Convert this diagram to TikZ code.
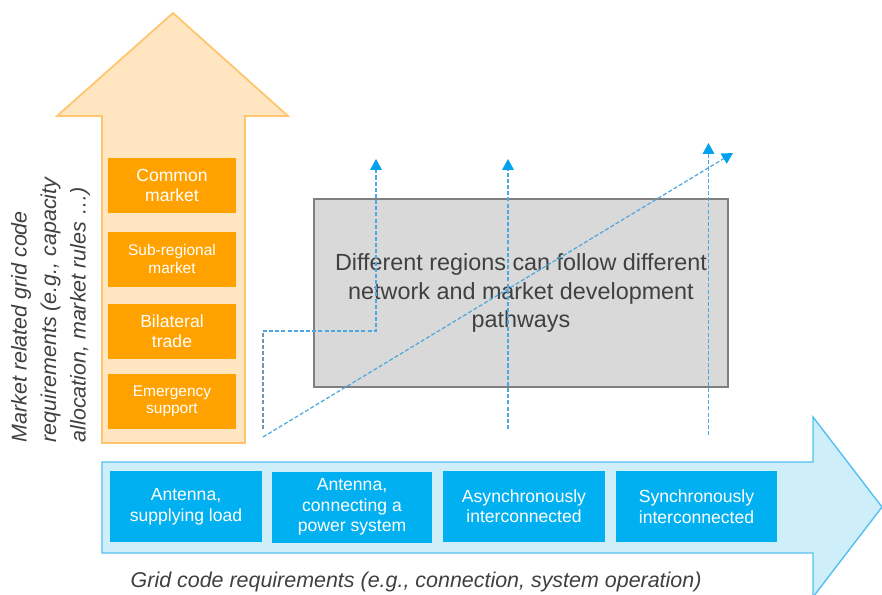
\documentclass[tikz,border=0pt]{standalone}
\usepackage{fontspec}
\setmainfont{Liberation Sans}
\usetikzlibrary{arrows.meta}
\definecolor{mktfill}{RGB}{255,230,192}
\definecolor{mktline}{RGB}{255,196,110}
\definecolor{mktbox}{RGB}{255,162,0}
\definecolor{gridfill}{RGB}{206,238,250}
\definecolor{gridline}{RGB}{85,192,240}
\definecolor{gridbox}{RGB}{0,176,240}
\definecolor{boxfill}{RGB}{217,217,217}
\definecolor{boxline}{RGB}{127,127,127}
\definecolor{labelgray}{RGB}{64,64,64}
\definecolor{dashblue}{RGB}{75,168,224}
\definecolor{dashgray}{RGB}{110,150,185}
\definecolor{tipblue}{RGB}{0,162,238}

\begin{document}
\begin{tikzpicture}[>={Triangle[length=6.2pt,width=6.6pt,color=tipblue]},thick]

      % picture size
      \useasboundingbox (0,0) rectangle (17.64,-11.88);

      % big arrows
      \draw [draw=gridline, fill=gridfill, line width=0.8pt] (2.04,-9.24) -- (16.26,-9.24) -- (16.26,-8.34) -- (17.64,-10.14) -- (16.26,-11.94) -- (16.26,-11.06) -- (2.04,-11.06) -- cycle;
      \draw [draw=mktline, fill=mktfill, line width=1pt] (2.04,-8.86) -- (2.04,-2.32) -- (1.14,-2.32) -- (3.46,-0.26) -- (5.76,-2.32) -- (4.90,-2.32) -- (4.90,-8.86) -- cycle;

      % market steps
      \node [fill=mktbox, text=white, minimum width=2.56cm, minimum height=1.1cm, align=center, font=\fontsize{10}{11.4}\selectfont, name=m4] at (3.44, -3.71) {Common\\market};
      \node [fill=mktbox, text=white, minimum width=2.56cm, minimum height=1.1cm, align=center, font=\fontsize{8.8}{9.9}\selectfont, name=m3] at (3.44, -5.18) {Sub-regional\\market};
      \node [fill=mktbox, text=white, minimum width=2.56cm, minimum height=1.1cm, align=center, font=\fontsize{10}{11.4}\selectfont, name=m2] at (3.44, -6.63) {Bilateral\\trade};
      \node [fill=mktbox, text=white, minimum width=2.56cm, minimum height=1.1cm, align=center, font=\fontsize{8.8}{9.9}\selectfont, name=m1] at (3.44, -8.03) {Emergency\\support};

      % grid steps
      \node [fill=gridbox, text=white, minimum width=3.04cm, minimum height=1.42cm, align=center, font=\fontsize{10}{11.7}\selectfont, name=g1] at (3.72, -10.13) {Antenna,\\supplying load};
      \node [fill=gridbox, text=white, minimum width=3.2cm, minimum height=1.42cm, align=center, font=\fontsize{10}{11.7}\selectfont, name=g2] at (7.04, -10.14) {Antenna,\\connecting a\\power system};
      \node [fill=gridbox, text=white, minimum width=3.24cm, minimum height=1.42cm, align=center, font=\fontsize{10}{11.7}\selectfont, name=g3] at (10.48, -10.12) {Asynchronously\\interconnected};
      \node [fill=gridbox, text=white, minimum width=3.22cm, minimum height=1.42cm, align=center, font=\fontsize{10}{11.7}\selectfont, name=g4] at (13.93, -10.13) {Synchronously\\interconnected};

      % axis labels
      \node [rotate=90, anchor=west, align=left, inner sep=0pt, text=labelgray, font=\fontsize{12.2}{16.8}\selectfont\itshape, name=mktlabel] at (1.01, -8.86) {Market related grid code\\requirements (e.g., capacity\\allocation, market rules …)};
      \node [anchor=base west, inner sep=0pt, text=labelgray, font=\fontsize{12.2}{14}\selectfont\itshape, name=gridlabel] at (2.6, -11.74) {Grid code requirements (e.g., connection, system operation)};

      % centre box
      \node [draw=boxline, fill=boxfill, line width=1.2pt, minimum width=8.28cm, minimum height=3.76cm, align=center, text=labelgray, font=\fontsize{13.3}{16.3}\selectfont, name=regions] at (10.42, -5.86) {Different regions can follow different\\network and market development\\pathways};

      % pathways
      \coordinate (p1a) at (5.26, -8.58);
      \coordinate (p1b) at (5.26, -6.62);
      \coordinate (p1c) at (7.52, -6.62);
      \coordinate (p1d) at (7.52, -3.18);
      \coordinate (p2a) at (10.16, -8.58);
      \coordinate (p2b) at (10.16, -3.18);
      \coordinate (p3a) at (14.17, -8.70);
      \coordinate (p3b) at (14.17, -2.86);
      \coordinate (p4a) at (5.26, -8.74);
      \coordinate (p4b) at (14.66, -3.06);

      \draw [dashgray, line width=0.7pt, dash pattern=on 2.3pt off 1.2pt] (p1a) -- (p1b);
      \draw [->, dashblue, line width=0.7pt, dash pattern=on 2.3pt off 1.2pt] (p1b) -- (p1c) -- (p1d);
      \draw [->, dashblue, line width=0.7pt, dash pattern=on 2.3pt off 1.2pt] (p2a) -- (p2b);
      \draw [->, dashblue, line width=0.7pt, dash pattern=on 2.3pt off 1.2pt] (p3a) -- (p3b);
      \draw [->, dashblue, line width=0.7pt, dash pattern=on 2.3pt off 1.2pt] (p4a) -- (p4b);

\end{tikzpicture}
\end{document}
